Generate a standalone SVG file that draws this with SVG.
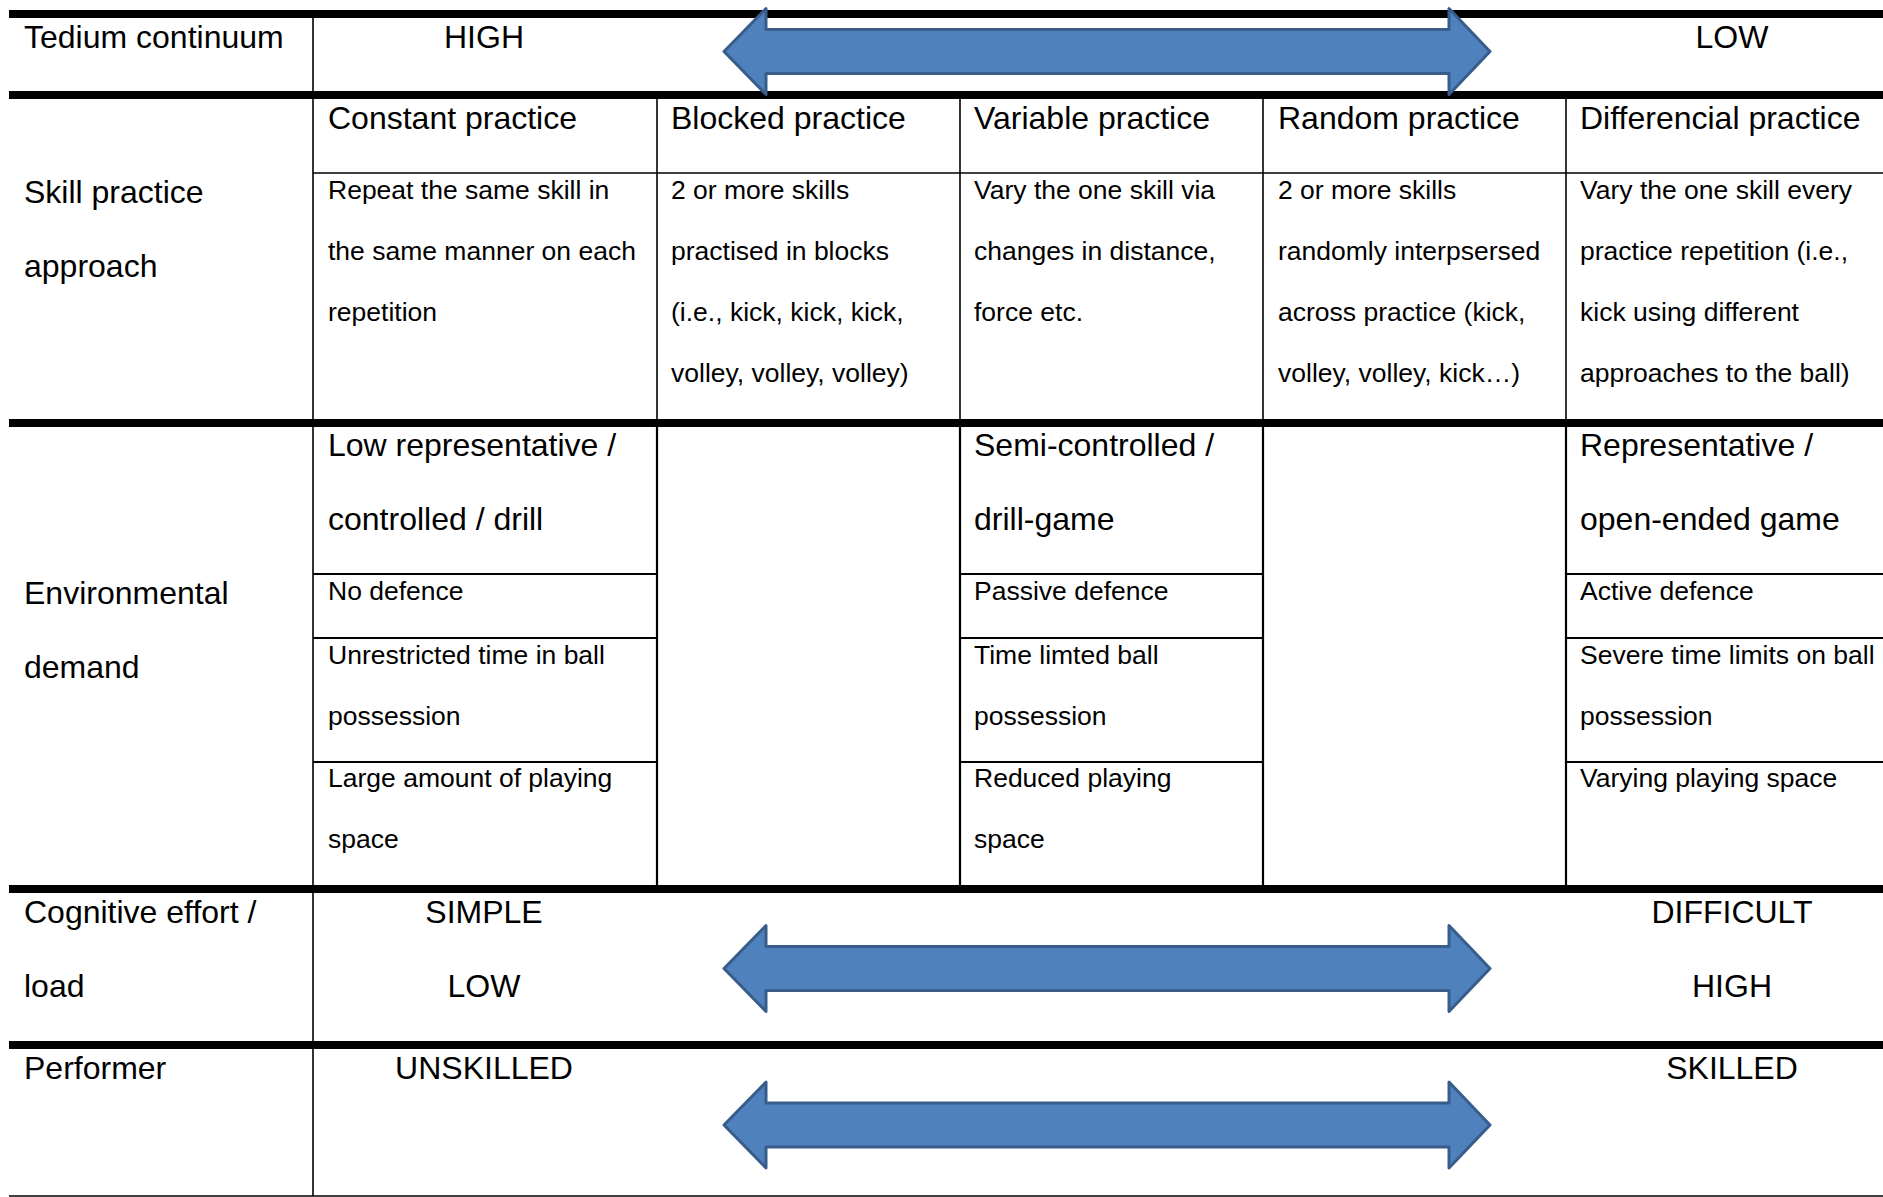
<svg xmlns="http://www.w3.org/2000/svg" xmlns:xlink="http://www.w3.org/1999/xlink" width="1883" height="1197" viewBox="0 0 1883 1197">
<style>
text{font-family:"Liberation Sans",Arial,sans-serif;fill:#000}
.h{font-size:32px}
.d{font-size:26.5px}
.c{text-anchor:middle}
.thick{stroke:#000;stroke-width:8}
.thin{stroke:#000;stroke-width:1.6}
.mid{stroke:#000;stroke-width:2.2}
.arrow{fill:#4F81BD;stroke:#385D8A;stroke-width:3;stroke-linejoin:round}
</style>
<defs>
<path id="dbl" class="arrow" d="M724,0 L766,-43 L766,-22 L1449,-22 L1449,-43 L1490,0 L1449,43 L1449,22 L766,22 L766,43 Z"/>
</defs>
<rect width="1883" height="1197" fill="#fff"/>
<g id="grid">
<line class="thick" x1="9" y1="14" x2="1883" y2="14"/>
<line class="thick" x1="9" y1="95" x2="1883" y2="95"/>
<line class="thick" x1="9" y1="423" x2="1883" y2="423"/>
<line class="thick" x1="9" y1="889" x2="1883" y2="889"/>
<line class="thick" x1="9" y1="1045" x2="1883" y2="1045"/>
<line class="thin" x1="9" y1="1196" x2="1883" y2="1196"/>
<line class="thin" x1="313" y1="14" x2="313" y2="1196"/>
<line class="thin" x1="313" y1="173" x2="1883" y2="173"/>
<line class="thin" x1="657" y1="95" x2="657" y2="423"/>
<line class="thin" x1="960" y1="95" x2="960" y2="423"/>
<line class="thin" x1="1263" y1="95" x2="1263" y2="423"/>
<line class="thin" x1="1566" y1="95" x2="1566" y2="423"/>
<line class="mid" x1="657" y1="423" x2="657" y2="889"/>
<line class="mid" x1="960" y1="423" x2="960" y2="889"/>
<line class="mid" x1="1263" y1="423" x2="1263" y2="889"/>
<line class="mid" x1="1566" y1="423" x2="1566" y2="889"/>
<line class="mid" x1="313" y1="574" x2="657" y2="574"/>
<line class="mid" x1="313" y1="638" x2="657" y2="638"/>
<line class="mid" x1="313" y1="762" x2="657" y2="762"/>
<line class="mid" x1="960" y1="574" x2="1263" y2="574"/>
<line class="mid" x1="960" y1="638" x2="1263" y2="638"/>
<line class="mid" x1="960" y1="762" x2="1263" y2="762"/>
<line class="mid" x1="1566" y1="574" x2="1883" y2="574"/>
<line class="mid" x1="1566" y1="638" x2="1883" y2="638"/>
<line class="mid" x1="1566" y1="762" x2="1883" y2="762"/>
</g>
<g id="connectors">
<use xlink:href="#dbl" href="#dbl" transform="translate(0,51.5)"/>
<use xlink:href="#dbl" href="#dbl" transform="translate(0,968.5)"/>
<use xlink:href="#dbl" href="#dbl" transform="translate(0,1125)"/>
</g>
<g id="row-tedium">
<text class="h" x="24" y="48">Tedium continuum</text>
<text class="h c" x="484" y="48">HIGH</text>
<text class="h c" x="1732" y="48">LOW</text>
</g>
<g id="row-skill">
<text class="h" x="24" y="203">Skill practice</text>
<text class="h" x="24" y="277">approach</text>
</g>
<g id="cell-constant">
<text class="h" x="328" y="129">Constant practice</text>
<text class="d" x="328" y="199">Repeat the same skill in</text>
<text class="d" x="328" y="260">the same manner on each</text>
<text class="d" x="328" y="321">repetition</text>
</g>
<g id="cell-blocked">
<text class="h" x="671" y="129">Blocked practice</text>
<text class="d" x="671" y="199">2 or more skills</text>
<text class="d" x="671" y="260">practised in blocks</text>
<text class="d" x="671" y="321">(i.e., kick, kick, kick,</text>
<text class="d" x="671" y="382">volley, volley, volley)</text>
</g>
<g id="cell-variable">
<text class="h" x="974" y="129">Variable practice</text>
<text class="d" x="974" y="199">Vary the one skill via</text>
<text class="d" x="974" y="260">changes in distance,</text>
<text class="d" x="974" y="321">force etc.</text>
</g>
<g id="cell-random">
<text class="h" x="1278" y="129">Random practice</text>
<text class="d" x="1278" y="199">2 or more skills</text>
<text class="d" x="1278" y="260">randomly interpsersed</text>
<text class="d" x="1278" y="321">across practice (kick,</text>
<text class="d" x="1278" y="382">volley, volley, kick…)</text>
</g>
<g id="cell-differencial">
<text class="h" x="1580" y="129">Differencial practice</text>
<text class="d" x="1580" y="199">Vary the one skill every</text>
<text class="d" x="1580" y="260">practice repetition (i.e.,</text>
<text class="d" x="1580" y="321">kick using different</text>
<text class="d" x="1580" y="382">approaches to the ball)</text>
</g>
<g id="row-environment">
<text class="h" x="24" y="604">Environmental</text>
<text class="h" x="24" y="678">demand</text>
</g>
<g id="cell-env-low">
<text class="h" x="328" y="456">Low representative /</text>
<text class="h" x="328" y="530">controlled / drill</text>
<text class="d" x="328" y="600">No defence</text>
<text class="d" x="328" y="664">Unrestricted time in ball</text>
<text class="d" x="328" y="725">possession</text>
<text class="d" x="328" y="787">Large amount of playing</text>
<text class="d" x="328" y="848">space</text>
</g>
<g id="cell-env-semi">
<text class="h" x="974" y="456">Semi-controlled /</text>
<text class="h" x="974" y="530">drill-game</text>
<text class="d" x="974" y="600">Passive defence</text>
<text class="d" x="974" y="664">Time limted ball</text>
<text class="d" x="974" y="725">possession</text>
<text class="d" x="974" y="787">Reduced playing</text>
<text class="d" x="974" y="848">space</text>
</g>
<g id="cell-env-rep">
<text class="h" x="1580" y="456">Representative /</text>
<text class="h" x="1580" y="530">open-ended game</text>
<text class="d" x="1580" y="600">Active defence</text>
<text class="d" x="1580" y="664">Severe time limits on ball</text>
<text class="d" x="1580" y="725">possession</text>
<text class="d" x="1580" y="787">Varying playing space</text>
</g>
<g id="row-cognitive">
<text class="h" x="24" y="923">Cognitive effort /</text>
<text class="h" x="24" y="997">load</text>
<text class="h c" x="484" y="923">SIMPLE</text>
<text class="h c" x="484" y="997">LOW</text>
<text class="h c" x="1732" y="923">DIFFICULT</text>
<text class="h c" x="1732" y="997">HIGH</text>
</g>
<g id="row-performer">
<text class="h" x="24" y="1079">Performer</text>
<text class="h c" x="484" y="1079">UNSKILLED</text>
<text class="h c" x="1732" y="1079">SKILLED</text>
</g>
</svg>
